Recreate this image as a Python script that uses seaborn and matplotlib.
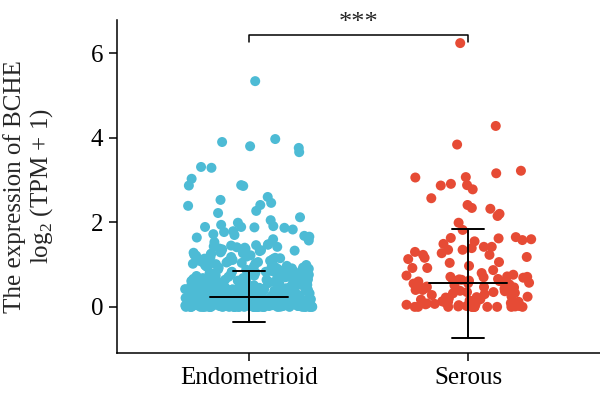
import numpy as np
import pandas as pd
import matplotlib
matplotlib.use("Agg")
import matplotlib.pyplot as plt
import seaborn as sns

# values, log2(TPM + 1)
groups = ["Endometrioid", "Serous"]
colors = ["#4DBBD5", "#E64B35"]

endometrioid = [
    5.34, 3.97, 3.90, 3.80, 3.76, 3.66, 3.31, 3.29, 3.03, 2.88, 2.87, 2.86,
    2.60, 2.53, 2.46, 2.41, 2.39, 2.27, 2.22, 1.99, 1.94, 1.91, 1.89, 1.89,
    1.88, 1.87, 1.77, 1.72, 1.70, 1.68, 1.66, 2.05, 2.12, 1.83, 1.79, 1.64,
    1.48, 1.46, 1.45, 1.43, 1.41, 1.40, 1.38, 1.36, 1.35, 1.33, 1.32, 1.31,
    1.29, 1.27, 1.26, 1.24, 1.22, 1.21, 1.19, 1.18, 1.16, 1.15, 1.13, 1.12,
    1.11, 1.09, 1.08, 1.06, 1.05, 1.04, 1.02, 1.01, 1.57, 1.53, 1.60,
    1.47, 1.42, 1.37, 1.34, 1.28, 1.23, 1.17, 1.14, 1.10, 1.07, 1.03, 1.00,
    0.99, 0.97, 0.96, 0.94, 0.93, 0.93, 0.91, 0.90, 0.88, 0.87, 0.86, 0.85,
    0.85, 0.83, 0.82, 0.81, 0.80, 0.79, 0.78, 0.78, 0.76, 0.75, 0.74, 0.73,
    0.73, 0.72, 0.70, 0.69, 0.68, 0.67, 0.67, 0.66, 0.65, 0.64, 0.63, 0.62,
    0.61, 0.60, 0.60, 0.59, 0.58, 0.57, 0.56, 0.56, 0.55, 0.54, 0.53, 0.52,
    0.52, 0.51, 0.50, 0.95, 0.89, 0.84, 0.77, 0.71, 0.66, 0.62, 0.58, 0.54,
    0.98, 0.92, 0.86, 0.81, 0.76, 0.72, 0.68, 0.64, 0.61, 0.57, 0.53, 0.51,
    0.97, 0.90, 0.83, 0.79, 0.74, 0.70, 0.65, 0.59, 0.55, 0.50, 0.88, 0.75,
    0.49, 0.48, 0.48, 0.47, 0.46, 0.46, 0.45, 0.44, 0.44, 0.43,
    0.42, 0.42, 0.41, 0.40, 0.40, 0.39, 0.38, 0.38, 0.37, 0.36,
    0.36, 0.35, 0.34, 0.34, 0.33, 0.32, 0.32, 0.31, 0.30, 0.30,
    0.29, 0.29, 0.28, 0.27, 0.27, 0.26, 0.26, 0.25, 0.25, 0.47,
    0.45, 0.43, 0.41, 0.39, 0.37, 0.35, 0.33, 0.31, 0.29, 0.27,
    0.46, 0.42, 0.38, 0.34, 0.30, 0.26, 0.44, 0.36, 0.28, 0.40,
    0.49, 0.45, 0.41, 0.37, 0.33, 0.43, 0.39, 0.35, 0.31, 0.48,
    0.24, 0.24, 0.23, 0.23, 0.22, 0.22, 0.21, 0.21, 0.20, 0.20,
    0.19, 0.19, 0.18, 0.18, 0.17, 0.17, 0.16, 0.16, 0.15, 0.15,
    0.14, 0.14, 0.13, 0.13, 0.12, 0.12, 0.11, 0.11, 0.10, 0.10,
    0.09, 0.09, 0.08, 0.08, 0.23, 0.21, 0.19, 0.17, 0.15, 0.13,
    0.11, 0.09, 0.22, 0.18, 0.14, 0.10, 0.24, 0.20, 0.16, 0.12,
    0.21, 0.17, 0.13, 0.09, 0.19, 0.15, 0.11, 0.23, 0.14, 0.10,
    0.07, 0.07, 0.07, 0.06, 0.06, 0.06, 0.06, 0.05, 0.05, 0.05,
    0.05, 0.05, 0.04, 0.04, 0.04, 0.04, 0.04, 0.04, 0.03, 0.03,
    0.03, 0.03, 0.03, 0.03, 0.03, 0.02, 0.02, 0.02, 0.02, 0.02,
    0.02, 0.02, 0.02, 0.01, 0.01, 0.01, 0.01, 0.01, 0.01, 0.01,
    0.01, 0.01, 0.01, 0.00, 0.00, 0.00, 0.00, 0.00, 0.00, 0.00,
    0.00, 0.00, 0.00, 0.00, 0.00, 0.00, 0.00, 0.00, 0.00, 0.00,
    0.00, 0.00, 0.00, 0.00, 0.00, 0.00, 0.00, 0.00, 0.00, 0.00,
    0.06, 0.05, 0.04, 0.03, 0.02, 0.01, 0.00, 0.00, 0.07, 0.05,
    0.03, 0.01, 0.00, 0.00, 0.06, 0.04, 0.02, 0.00, 0.00, 0.00,
]

serous = [
    6.24, 4.28, 3.84, 3.22, 3.16, 3.07, 3.06, 2.91, 2.88, 2.87, 2.78, 2.57,
    2.41, 2.34, 2.32, 2.20, 2.15, 1.99, 1.82, 1.65, 1.63, 1.62, 1.60, 1.58,
    1.55, 1.49, 1.42, 1.42, 1.39, 1.35, 1.35, 1.30, 1.27, 1.23, 1.23, 1.18,
    1.16, 1.13, 1.06, 1.04, 0.97, 0.92, 0.92, 0.87, 0.80, 0.76, 0.71, 0.71,
    0.70, 0.64, 0.62, 0.59, 0.57, 0.47, 0.40, 0.35, 0.24, 0.12, 0.07,
    0.74, 0.72, 0.69, 0.66, 0.65, 0.63, 0.61, 0.60, 0.58, 0.56,
    0.55, 0.53, 0.51, 0.50, 0.48, 0.46, 0.45, 0.43, 0.42, 0.40,
    0.38, 0.37, 0.35, 0.33, 0.32, 0.30, 0.28, 0.27, 0.25, 0.23,
    0.22, 0.20, 0.18, 0.17, 0.15, 0.13, 0.12, 0.10, 0.09, 0.08,
    0.07, 0.06, 0.05, 0.04, 0.03, 0.02, 0.02, 0.01, 0.01, 0.00,
    0.00, 0.00, 0.00, 0.00, 0.00, 0.00, 0.00, 0.00, 0.00, 0.00,
]

# mean and SD as drawn in the reference
group_mean = [0.24, 0.56]
group_sd = [0.60, 1.29]
sig_label = "***"

df = pd.DataFrame({
    "group": ["Endometrioid"] * len(endometrioid) + ["Serous"] * len(serous),
    "value": endometrioid + serous,
})

sns.set_style("ticks")
plt.rcParams["font.family"] = ["Liberation Serif", "DejaVu Serif"]
plt.rcParams["mathtext.fontset"] = "custom"
plt.rcParams["mathtext.rm"] = "Liberation Serif"
np.random.seed(3)

fig = plt.figure(figsize=(6, 3.97), dpi=100)
ax = fig.add_axes([0.195, 0.111, 0.805, 0.839])

sns.stripplot(data=df, x="group", y="value", hue="group", order=groups,
              palette=colors, jitter=0.29, size=7.2, linewidth=0,
              alpha=1, legend=False, ax=ax, zorder=1)

# mean +/- SD bars
for i, (m, s) in enumerate(zip(group_mean, group_sd)):
    ax.plot([i, i], [m - s, m + s], color="black", lw=1.4, zorder=5)
    ax.plot([i - 0.178, i + 0.178], [m, m], color="black", lw=1.4, zorder=5)
    for yy in (m - s, m + s):
        ax.plot([i - 0.073, i + 0.073], [yy, yy], color="black", lw=1.4, zorder=5)

# significance bracket
top = max(max(endometrioid), max(serous))
y1, y2 = top + 0.02, top + 0.19
ax.plot([0, 0, 1, 1], [y1, y2, y2, y1], color="black", lw=1.1)
ax.text(0.5, y2 + 0.02, sig_label, ha="center", va="bottom", fontsize=19)

ax.set_xlim(-0.6, 1.6)
ax.set_ylim(-1.09, 6.79)
ax.set_yticks([0, 2, 4, 6])
ax.set_xlabel("")
ax.set_ylabel("The expression of BCHE\nlog$_\\mathrm{2}$ (TPM + 1)", fontsize=18,
              linespacing=1.12)
ax.yaxis.set_label_coords(-0.128, 0.5)
ax.tick_params(axis="both", labelsize=18, length=6, width=1.1, pad=4,
               color="black", labelcolor="black")
for sp in ["top", "right"]:
    ax.spines[sp].set_visible(False)
for sp in ["left", "bottom"]:
    ax.spines[sp].set_linewidth(1.1)
    ax.spines[sp].set_color("black")

fig.savefig("out.png", dpi=100)
